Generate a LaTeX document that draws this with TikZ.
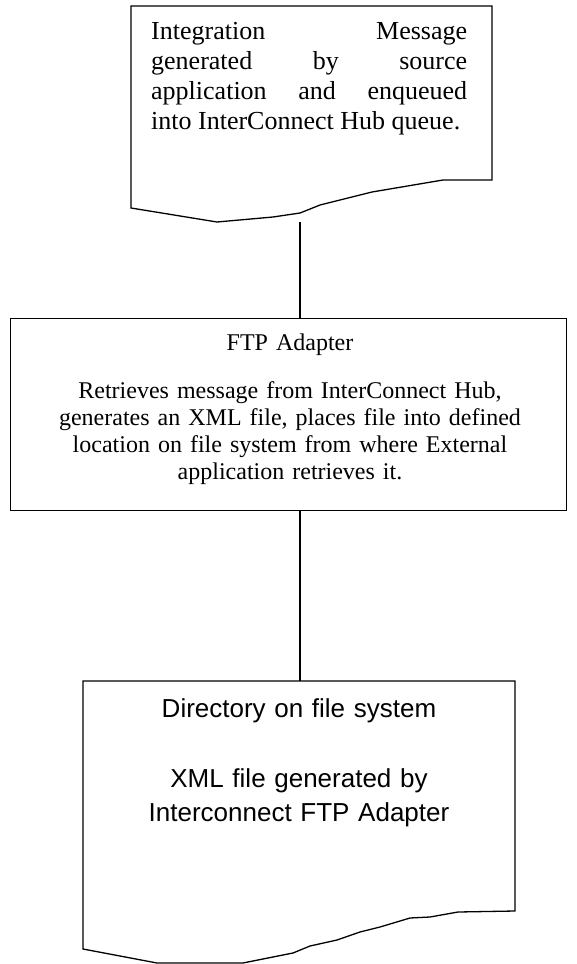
\documentclass[tikz,border=0pt]{standalone}
\usepackage{fontspec}
\setmainfont{Liberation Serif}
\setsansfont{Liberation Sans}
\usetikzlibrary{positioning}
\tikzset{
    docline/.style={draw, line width=1.3pt, line join=miter},
    wire/.style={draw, line width=1.3pt},
    msgtext/.style={inner sep=0pt, text width=316pt, align=justify, font=\fontsize{26}{30}\selectfont},
    ftptext/.style={inner sep=0pt, text width=540pt, align=center, font=\fontsize{24}{27}\selectfont},
    dirtext/.style={inner sep=0pt, text width=420pt, align=center, font=\sffamily\fontsize{26}{34}\selectfont}
}

\begin{document}
\begin{tikzpicture}[x=1pt, y=-1pt]
    \useasboundingbox (0,0) rectangle (576,964);
    % source message
    \draw[docline] (131,208) -- (131,6) -- (492,6) -- (492,180) -- (443,180) -- (372,192)
        -- (320,205) -- (300,213) -- (273,217) -- (217,222) -- cycle;
    \node[msgtext, anchor=base west] (msg) at (151,39)
        {Integration Message\linebreak generated by source\linebreak application and enqueued\linebreak into InterConnect Hub queue.};
    \coordinate (msg-foot) at (300,222);
    % adapter
    \node[wire, minimum width=556pt, minimum height=192pt, anchor=north west] (ftp) at (10,318) {};
    \node[ftptext, anchor=base] (ftp-text) at (290,350)
        {FTP Adapter\\[21pt]Retrieves message from InterConnect Hub,\\generates an XML file, places file into defined\\location on file system from where External\\application retrieves it.};
    % target directory
    \draw[docline] (83,949) -- (83,681) -- (515,681) -- (515,911) -- (458,912) -- (430,917)
        -- (410,918) -- (380,927) -- (360,932) -- (337,940) -- (310,946) -- (293,953)
        -- (243,963) -- (157,963) -- cycle;
    \node[dirtext, anchor=base] (dir) at (299,717)
        {Directory on file system\\[36pt]XML file generated by\\Interconnect FTP Adapter};
    \coordinate (dir-head) at (300,681);
    \draw[wire] (msg-foot) -- (msg-foot |- ftp.north);
    \draw[wire] (ftp.south -| dir-head) -- (dir-head);
\end{tikzpicture}
\end{document}
